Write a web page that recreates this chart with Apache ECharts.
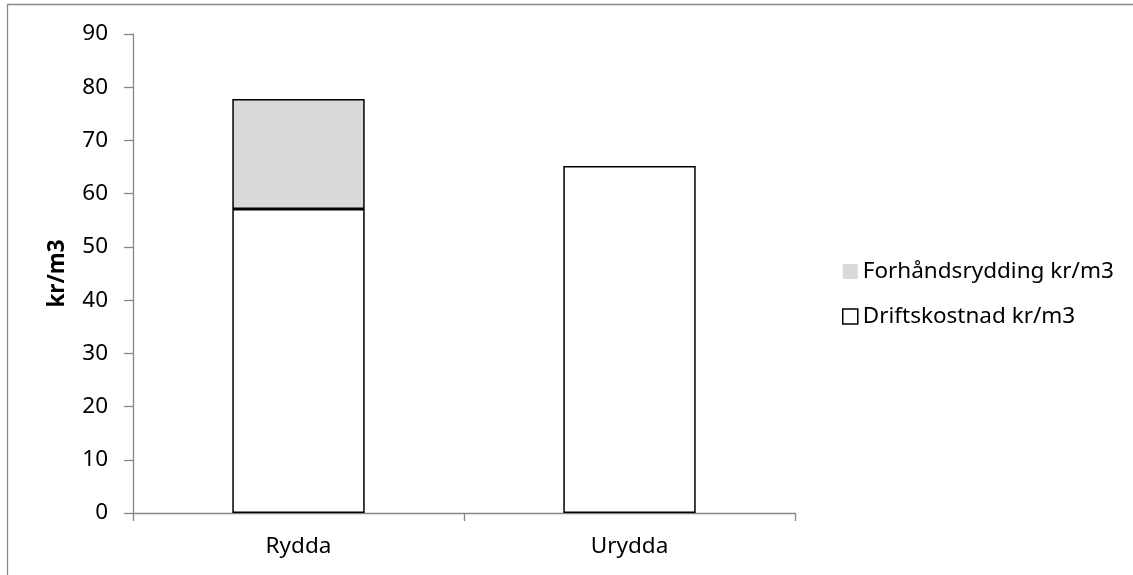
<!DOCTYPE html>
<html>
<head>
<meta charset="utf-8">
<script src="https://cdn.jsdelivr.net/npm/echarts@6/dist/echarts.min.js"></script>
<style>
  html, body { margin: 0; padding: 0; background: #fff; }
  #chart { width: 1133px; height: 575px; }
</style>
</head>
<body>
<div id="chart"></div>
<script>
// Cost per m3, split into operating cost and pre-clearing
const categories = ['Rydda', 'Urydda'];
const driftskostnad = [57.1, 65.2];
const forhandsrydding = [20.7, null];
const yTicks = { min: 0, max: 90, interval: 10 };

const FONT = '"Noto Sans", "Open Sans", sans-serif';
const AXIS_GREY = '#868686';
const FS = 22.5;

const chart = echarts.init(document.getElementById('chart'));
chart.setOption({
  animation: false,
  backgroundColor: '#ffffff',
  textStyle: { fontFamily: FONT },
  graphic: [{
    type: 'rect',
    shape: { x: 7.5, y: 4.5, width: 1140, height: 600 },
    style: { fill: 'none', stroke: '#898989', lineWidth: 1.3 },
    silent: true
  }],
  grid: { left: 133, right: 338, top: 34, bottom: 62 },
  legend: {
    orient: 'vertical',
    left: 837,
    top: 255,
    itemWidth: 15,
    itemHeight: 15,
    itemGap: 22,
    icon: 'rect',
    textStyle: { fontFamily: FONT, fontSize: FS, color: '#000' },
    data: [
      { name: 'Forhåndsrydding kr/m3', itemStyle: { color: '#d9d9d9', borderWidth: 0 } },
      { name: 'Driftskostnad kr/m3', itemStyle: { color: '#ffffff', borderColor: '#000', borderWidth: 1.5 } }
    ]
  },
  xAxis: {
    type: 'category',
    data: categories,
    axisLine: { lineStyle: { color: AXIS_GREY, width: 1.3 } },
    axisTick: { show: true, length: 8, alignWithLabel: false, lineStyle: { color: AXIS_GREY, width: 1.3 } },
    axisLabel: { color: '#000', fontSize: FS, fontFamily: FONT, margin: 22 }
  },
  yAxis: {
    type: 'value',
    min: yTicks.min,
    max: yTicks.max,
    interval: yTicks.interval,
    name: 'kr/m3',
    nameLocation: 'middle',
    nameGap: 64,
    nameRotate: 90,
    nameTextStyle: { color: '#000', fontSize: FS, fontWeight: 'bold', fontFamily: FONT },
    axisLine: { show: true, lineStyle: { color: AXIS_GREY, width: 1.3 } },
    axisTick: { show: true, length: 9, lineStyle: { color: AXIS_GREY, width: 1.3 } },
    axisLabel: { color: '#000', fontSize: FS, fontFamily: FONT, margin: 25 },
    splitLine: { show: false }
  },
  series: [
    {
      name: 'Driftskostnad kr/m3',
      type: 'bar',
      stack: 'total',
      barWidth: '40%',
      data: driftskostnad,
      itemStyle: { color: '#ffffff', borderColor: '#000', borderWidth: 1.5 }
    },
    {
      name: 'Forhåndsrydding kr/m3',
      type: 'bar',
      stack: 'total',
      barWidth: '40%',
      data: forhandsrydding,
      itemStyle: { color: '#d9d9d9', borderColor: '#000', borderWidth: 1.5 }
    }
  ]
});
</script>
</body>
</html>
